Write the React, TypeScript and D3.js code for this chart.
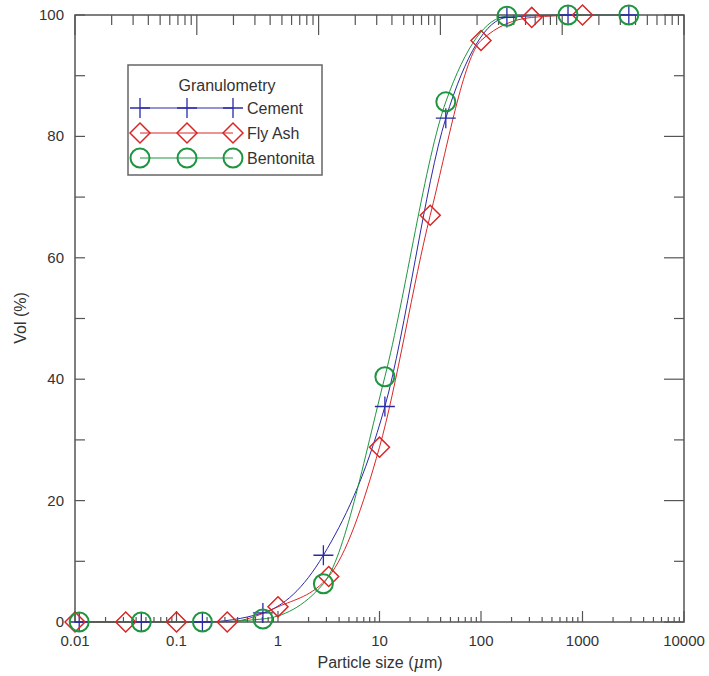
import * as d3 from "d3";

// particle size (um) / cumulative volume (%)
const cementSize = [0.011, 0.045, 0.18, 0.71, 2.8, 11.3, 45, 180, 720, 2860];
const cementVol = [0, 0, 0, 1.5, 11, 35.5, 83, 99.6, 100, 100];
const flyAshSize = [0.01, 0.0316, 0.1, 0.316, 1, 3.16, 10, 31.6, 100, 316, 1000];
const flyAshVol = [0, 0, 0, 0, 2.5, 7.5, 28.8, 67, 95.8, 99.6, 100];
const bentonitaSize = [0.011, 0.045, 0.18, 0.71, 2.8, 11.3, 45, 180, 720, 2860];
const bentonitaVol = [0, 0, 0, 0.5, 6.3, 40.4, 85.7, 99.8, 100, 100];

const xTickLabels = ["0.01", "0.1", "1", "10", "100", "1000", "10000"];
const yTickLabels = [0, 20, 40, 60, 80, 100];

const seriesNames = ["Cement", "Fly Ash", "Bentonita"];
const colors = ["#2a2aa8", "#d92626", "#1e9640"];

const width = 709;
const height = 676;
const left = 75;
const right = 684;
const top = 15;
const bottom = 622;
const axisColor = "#555";
const font = "'Liberation Sans', Arial, sans-serif";

function Marker({ kind, x, y, color }: { kind: number; x: number; y: number; color: string }) {
  if (kind === 0) {
    return (
      <path
        d={`M${x - 10},${y}H${x + 10}M${x},${y - 10}V${y + 10}`}
        stroke={color}
        strokeWidth={1.3}
        fill="none"
      />
    );
  }
  if (kind === 1) {
    return (
      <path
        d={`M${x - 10},${y}L${x},${y - 10}L${x + 10},${y}L${x},${y + 10}Z`}
        stroke={color}
        strokeWidth={1.5}
        fill="none"
      />
    );
  }
  return <circle cx={x} cy={y} r={9.5} stroke={color} strokeWidth={2} fill="none" />;
}

export default function App() {
  const x = d3.scaleLog().domain([0.01, 10000]).range([left, right]);
  const xTop = d3.scaleLog().domain([1, 100000]).range([left, right]);
  const y = d3.scaleLinear().domain([0, 100]).range([bottom, top]);

  const series = [
    { xs: cementSize, ys: cementVol },
    { xs: flyAshSize, ys: flyAshVol },
    { xs: bentonitaSize, ys: bentonitaVol },
  ];

  const line = d3
    .line<[number, number]>()
    .x((d) => x(d[0]))
    .y((d) => y(d[1]))
    .curve(d3.curveMonotoneX);

  const isMajor = (v: number) => Math.abs(Math.log10(v) - Math.round(Math.log10(v))) < 1e-6;
  const bottomTicks = x.ticks();
  const topTicks = xTop.ticks();
  const yTicks = d3.range(0, 101, 10);

  const legendX = 128;
  const legendY = 65;
  const legendW = 194;
  const legendH = 110;

  return (
    <svg
      width={width}
      height={height}
      style={{ position: "absolute", left: 0, top: 0, background: "#fff" }}
      fontFamily={font}
    >
      {/* curves */}
      {series.map((s, i) => (
        <path
          key={i}
          d={line(s.xs.map((v, j) => [v, s.ys[j]] as [number, number])) || ""}
          fill="none"
          stroke={colors[i]}
          strokeWidth={1}
        />
      ))}

      {/* frame */}
      <rect x={left} y={top} width={right - left} height={bottom - top} fill="none" stroke={axisColor} strokeWidth={1.5} />

      {/* bottom ticks */}
      {bottomTicks.map((t, i) => (
        <line key={"b" + i} x1={x(t)} x2={x(t)} y1={bottom} y2={bottom - (isMajor(t) ? 11 : 5)} stroke={axisColor} strokeWidth={1.2} />
      ))}
      {/* top ticks (secondary scale) */}
      {topTicks.map((t, i) => (
        <line key={"t" + i} x1={xTop(t)} x2={xTop(t)} y1={top} y2={top + (isMajor(t) ? 20 : 10)} stroke={axisColor} strokeWidth={1.2} />
      ))}
      {/* left / right ticks */}
      {yTicks.map((t) => (
        <g key={"y" + t}>
          <line x1={left} x2={left + 10} y1={y(t)} y2={y(t)} stroke={axisColor} strokeWidth={1.2} />
          <line x1={right} x2={right - (t % 20 === 0 ? 20 : 10)} y1={y(t)} y2={y(t)} stroke={axisColor} strokeWidth={1.2} />
        </g>
      ))}

      {/* tick labels */}
      {xTickLabels.map((l) => (
        <text key={l} x={x(+l)} y={646} textAnchor="middle" fontSize={15} fill="#333">
          {l}
        </text>
      ))}
      {yTickLabels.map((v) => (
        <text key={v} x={64} y={y(v) + 5} textAnchor="end" fontSize={15} fill="#333">
          {v}
        </text>
      ))}

      {/* axis titles */}
      <text x={380} y={668} textAnchor="middle" fontSize={16} fill="#333">
        Particle size (<tspan fontStyle="italic" fontFamily="'DejaVu Serif', serif">μ</tspan>m)
      </text>
      <text transform="translate(26,318) rotate(-90)" textAnchor="middle" fontSize={16} fill="#333">
        Vol (%)
      </text>

      {/* markers */}
      {series.map((s, i) => (
        <g key={"m" + i}>
          {s.xs.map((v, j) => (
            <Marker key={j} kind={i} x={x(v)} y={y(s.ys[j])} color={colors[i]} />
          ))}
        </g>
      ))}

      {/* legend */}
      <rect x={legendX} y={legendY} width={legendW} height={legendH} fill="#fff" stroke="#666" strokeWidth={1.5} />
      <text x={legendX + legendW / 2 + 2} y={legendY + 26} textAnchor="middle" fontSize={16} fill="#333">
        Granulometry
      </text>
      {seriesNames.map((name, i) => {
        const ly = legendY + 43 + i * 25;
        return (
          <g key={name}>
            <line x1={140} x2={233} y1={ly} y2={ly} stroke={colors[i]} strokeWidth={1} />
            {[140, 187, 233].map((mx) => (
              <Marker key={mx} kind={i} x={mx} y={ly} color={colors[i]} />
            ))}
            <text x={247} y={ly + 6} fontSize={16} fill="#333">
              {name}
            </text>
          </g>
        );
      })}
    </svg>
  );
}
